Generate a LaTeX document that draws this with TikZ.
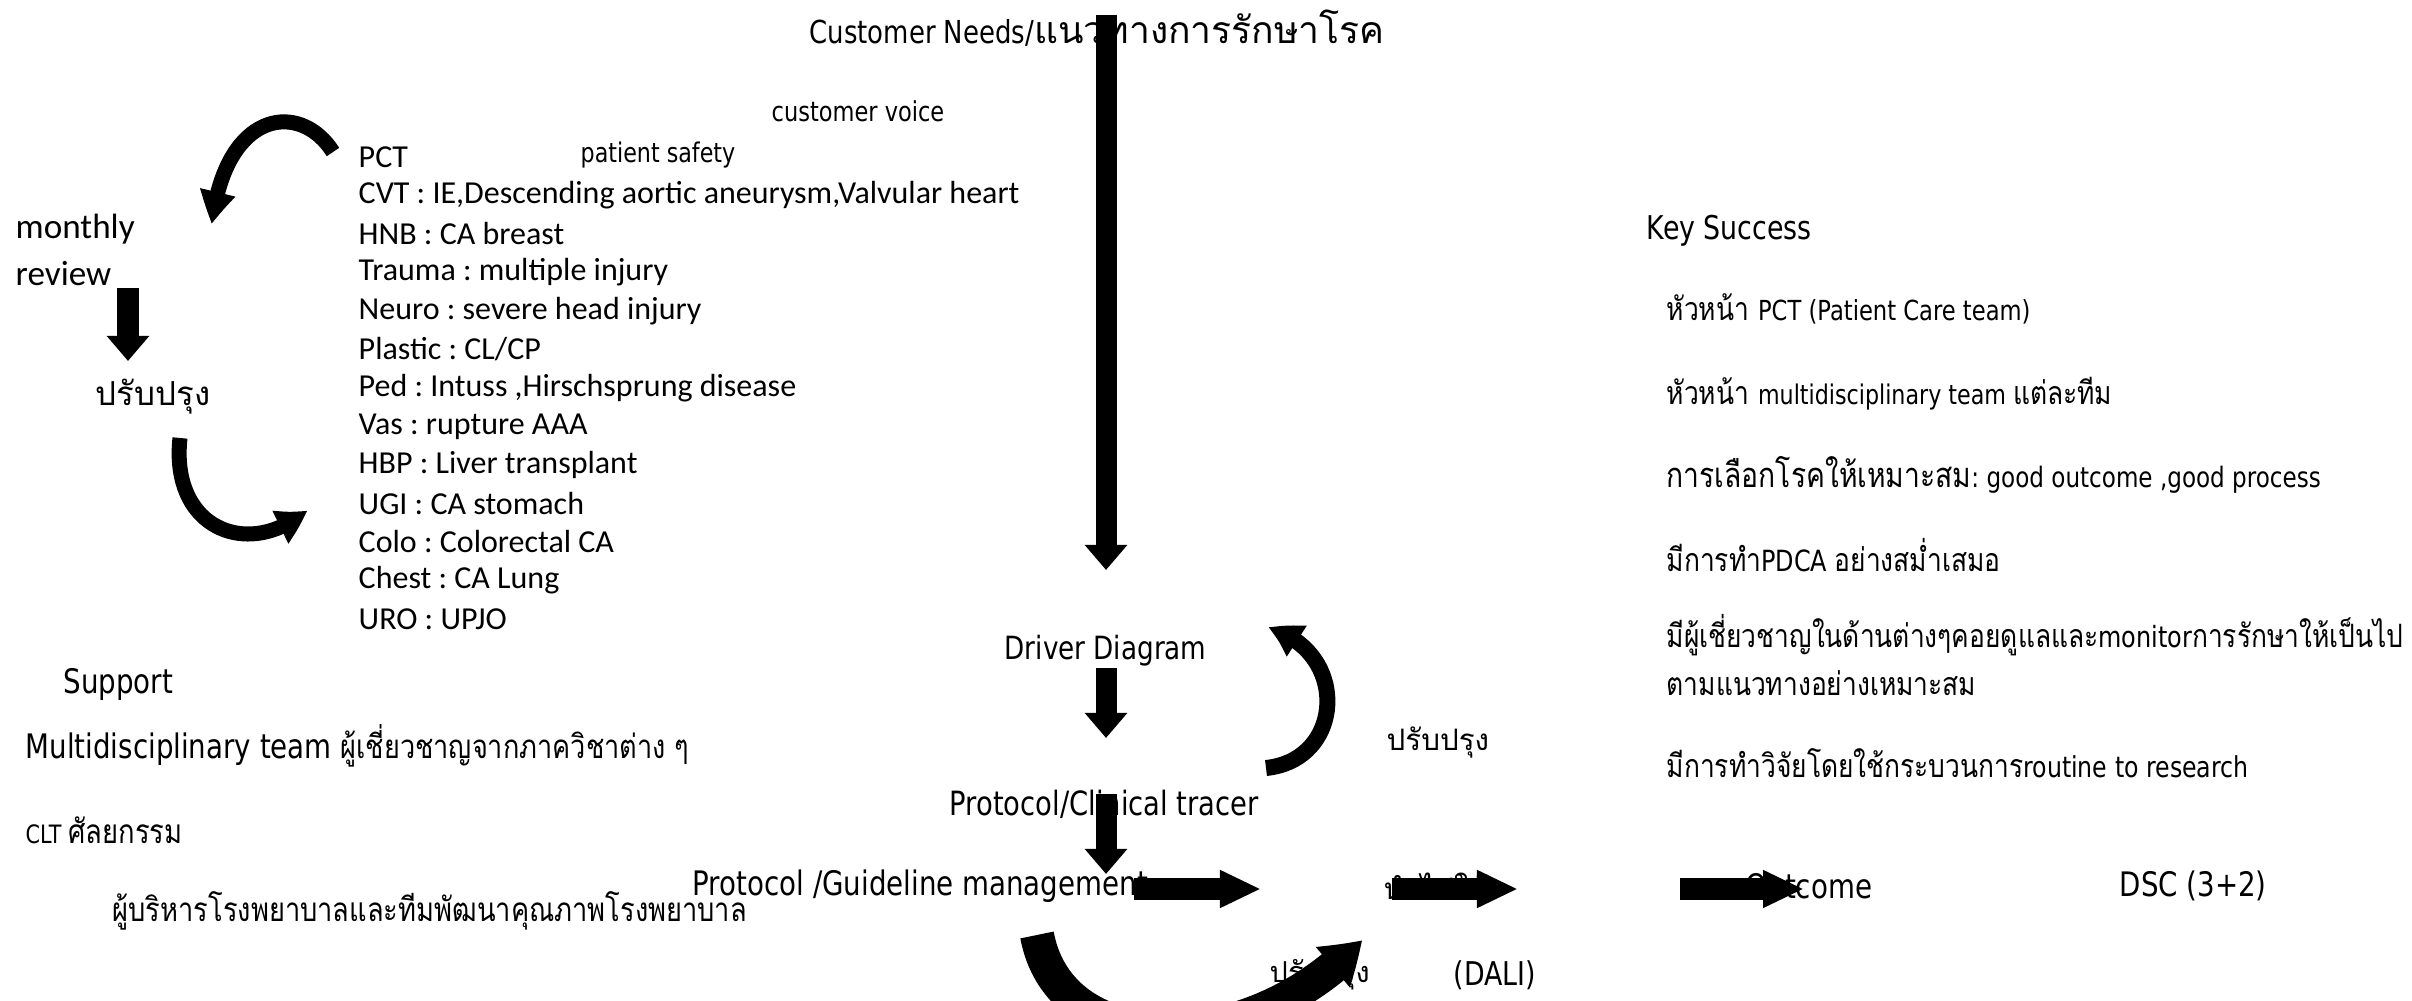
\documentclass[tikz,border=0pt]{standalone}
\usepackage{fontspec}
\usetikzlibrary{arrows.meta,bending}
\setmainfont{Carlito}
\newfontfamily\tah[FakeStretch=0.82]{DejaVu Sans}
\newfontfamily\thai[Script=Thai]{Loma}
\newfontfamily\thain[Script=Thai,FakeStretch=0.82]{Loma}
\newcommand{\fs}[1]{\fontsize{#1}{1.2\dimexpr #1\relax}\selectfont}
\frenchspacing
\tikzset{
  lbl/.style={inner sep=0pt, anchor=west},
  vbar/.style={line width=0.21cm, -{Triangle[width=0.41cm,length=0.25cm]}},
  hbar/.style={line width=0.21cm, -{Triangle[width=0.35cm,length=0.41cm]}},
  curl/.style={line width=#1, -{Triangle[width=0.34cm,length=0.32cm,bend]}},
}
\begin{document}
\begin{tikzpicture}[x=0.01cm,y=-0.01cm]
\clip (0,0) rectangle (2412,1001);
\useasboundingbox (0,0) rectangle (2412,1001);

% ---- labels ----
\node[lbl] (title) at (809,28) {\fs{9pt}\tah Customer Needs/\fs{10.6pt}\thai แนวทางการรักษาโรค};
\node[lbl] (voice) at (771,111) {\fs{7.8pt}\tah customer voice};
\node[lbl] (safety) at (580,155) {\fs{7.7pt}\tah patient safety};

\foreach \t [count=\i from 0] in {PCT,
  {CVT : IE,Descending aortic aneurysm,Valvular heart},
  {HNB : CA breast}, {Trauma : multiple injury}, {Neuro : severe head injury},
  {Plastic : CL/CP}, {Ped : Intuss ,Hirschsprung disease}, {Vas : rupture AAA},
  {HBP : Liver transplant}, {UGI : CA stomach}, {Colo : Colorectal CA},
  {Chest : CA Lung}, {URO : UPJO}}
  \node[lbl] (pct\i) at (358,{157+38.5*\i}) {\fs{9.1pt}\t};

\node[lbl, align=left] (monthly) at (15,250) {\fs{10pt}monthly\\[1.5pt]review};
\node[lbl] (imprL) at (95,397) {\fs{9.4pt}\thai ปรับปรุง};

\node[lbl] (driver) at (1004,651) {\fs{9.1pt}\tah Driver Diagram};
\node[lbl] (imprR) at (1386,743) {\fs{8.4pt}\thai ปรับปรุง};
\node[lbl] (tracer) at (949,804) {\fs{9.5pt}\tah Protocol/Clinical tracer};
\node[lbl] (guide) at (692,886) {\fs{9.6pt}\tah Protocol /Guideline management};
\node[lbl] (apply) at (1383,886) {\fs{8.4pt}\thai นำไปใช้};
\node[lbl] (outcome) at (1745,886) {\fs{9.6pt}\tah Outcome};
\node[lbl] (dsc) at (2119,886) {\fs{9.6pt}\tah DSC (3+2)};
\node[lbl] (imprB) at (1269,975) {\fs{8.2pt}\thai ปรับปรุง};
\node[lbl] (dali) at (1453,975) {\fs{9.3pt}\tah (DALI)};

\node[lbl] (support) at (63,684) {\fs{9.6pt}\tah Support};
\node[lbl] (multi) at (25,746) {\fs{9.6pt}\tah Multidisciplinary team \fs{9.4pt}\thain ผู้เชี่ยวชาญจากภาควิชาต่าง ๆ};
\node[lbl] (clt) at (25,830) {\fs{7.2pt}\tah CLT \fs{9.5pt}\thain ศัลยกรรม};
\node[lbl] (admin) at (112,911) {\fs{9.45pt}\thain ผู้บริหารโรงพยาบาลและทีมพัฒนาคุณภาพโรงพยาบาล};

\node[lbl] (key) at (1646,231) {\fs{9.3pt}\tah Key Success};
\node[lbl] (k1) at (1666,309) {\fs{9.15pt}\thain หัวหน้า \fs{7.85pt}\tah PCT (Patient Care team)};
\node[lbl] (k2) at (1666,394) {\fs{9.15pt}\thain หัวหน้า \fs{7.7pt}\tah multidisciplinary team \fs{9.15pt}\thain แต่ละทีม};
\node[lbl] (k3) at (1666,475) {\fs{9.8pt}\thain การเลือกโรคให้เหมาะสม\fs{8pt}\tah: good outcome ,good process};
\node[lbl] (k4) at (1666,555) {\fs{9.15pt}\thain มีการทำ\fs{8.3pt}\tah PDCA \fs{9.15pt}\thain อย่างสม่ำเสมอ};
\node[lbl] (k5) at (1666,635) {\fs{9.15pt}\thain มีผู้เชี่ยวชาญในด้านต่างๆคอยดูแลและ\fs{8.3pt}\tah monitor\fs{9.15pt}\thain การรักษาให้เป็นไป};
\node[lbl] (k6) at (1666,683) {\fs{9.15pt}\thain ตามแนวทางอย่างเหมาะสม};
\node[lbl] (k7) at (1666,763) {\fs{9.15pt}\thain มีการทำวิจัยโดยใช้กระบวนการ\fs{8.2pt}\tah routine to research};

% ---- arrow end points ----
\coordinate (a1s) at (1106,15);   \coordinate (a1e) at (1106,570);
\coordinate (a2s) at (1106,668);  \coordinate (a2e) at (1106,738);
\coordinate (a3s) at (1106,794);  \coordinate (a3e) at (1106,874);
\coordinate (r1s) at (1134,889);  \coordinate (r1e) at (1261,889);
\coordinate (r2s) at (1392,889);  \coordinate (r2e) at (1518,889);
\coordinate (r3s) at (1680,889);  \coordinate (r3e) at (1804,889);
\coordinate (mL) at (128,288);    \coordinate (mLe) at (128,361);
\coordinate (tlS) at (333,152);   \coordinate (tlE) at (212,224);
\coordinate (blS) at (180,438);   \coordinate (blE) at (307,510);
\coordinate (rcS) at (1266,768);  \coordinate (rcE) at (1268,628);
\coordinate (bcS) at (1037,935);  \coordinate (bcE) at (1362,940);

% ---- straight block arrows ----
\draw[vbar] (a1s) -- (a1e);
\draw[vbar] (a2s) -- (a2e);
\draw[vbar] (a3s) -- (a3e);
\draw[hbar] (r1s) -- (r1e);
\draw[hbar] (r2s) -- (r2e);
\draw[hbar] (r3s) -- (r3e);
\draw[vbar] (mL) -- (mLe);

% ---- curved arrows ----
\draw[curl=0.15cm] (tlS) .. controls (300,100) and (225,110) .. (tlE);
\draw[curl=0.15cm] (blS) .. controls (170,530) and (250,560) .. (blE);
\draw[curl=0.16cm] (rcS) .. controls (1345,760) and (1350,650) .. (rcE);
\draw[line width=0.34cm, -{Triangle[width=0.5cm,length=0.4cm,bend]}] (bcS) .. controls (1060,1060) and (1250,1060) .. (bcE);
\end{tikzpicture}
\end{document}
